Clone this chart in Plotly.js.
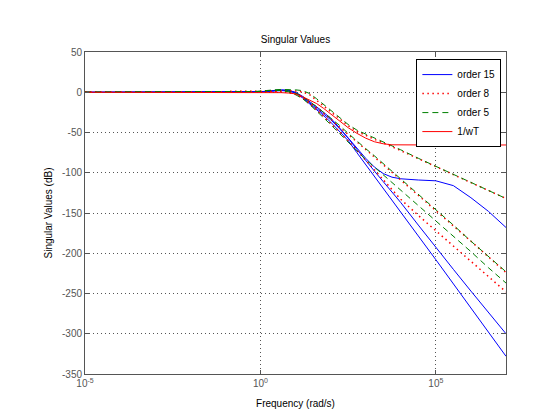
<!DOCTYPE html>
<html>
<head>
<meta charset="utf-8">
<script src="https://cdn.plot.ly/plotly-3.0.1.min.js"></script>
<style>
  html, body { margin: 0; padding: 0; background: #fff; }
  #chart { width: 560px; height: 420px; }
</style>
</head>
<body>
<div id="chart"></div>
<script>
const freq = [1e-5, 0.631, 1, 1.585, 2.512, 3.981, 6.31, 10, 15.85, 25.12, 39.81, 63.1, 100,
              177.8, 316.2, 562.3, 1000, 1778, 3162, 5623, 1e4, 3.162e4, 1e5, 3.162e5, 1e6, 3.162e6, 1e7];

// order 15 model: three singular values (dB)
const order15_sv1 = [0, 0.2, 0.5, 1.5, 2.5, 3, 2.5, 0, -5, -11, -18, -25, -32, -44, -57, -70, -82, -93, -101, -105.5, -107.5, -109, -110, -116, -131, -148, -168];
const order15_sv2 = [0, 0.2, 0.5, 1.2, 2, 2.5, 2, -0.5, -6, -12.5, -20, -27, -34, -45, -57, -71, -85, -98, -111, -124, -137, -165, -193, -220, -247, -273.5, -300];
const order15_sv3 = [0, 0.1, 0.4, 1, 1.5, 2, 1.5, -1, -7, -14, -21.5, -29, -37, -48, -60, -75, -90, -105, -120, -135, -149.5, -178.5, -208, -238, -268, -298, -328];

// order 8 model
const order8_sv1 = [0, 0.2, 0.5, 1, 1.5, 2, 2, 1.5, 0.5, -3, -10, -17, -24.5, -33, -41.5, -48.5, -54, -58.5, -63, -67.5, -72.5, -82.5, -92.5, -102.5, -112.5, -122.5, -132];
const order8_sv2 = [0, 0.2, 0.5, 1, 1.5, 1.5, 0.5, -2, -6, -12, -19, -26, -33, -43, -52, -61.5, -71, -80.5, -90, -99, -108, -127, -146, -165.5, -185, -204.5, -224];
const order8_sv3 = [0, 0.1, 0.4, 0.8, 1, 1, 0, -2.5, -7, -14, -22, -30, -38, -49, -60, -72, -84, -96, -108.5, -121, -133, -153, -172, -191, -210, -229, -248];

// order 5 model
const order5_sv1 = [0, 0.5, 1.5, 2.5, 3, 3.5, 3.5, 3, 2, -1.5, -8, -15, -22.5, -31, -40, -47, -52, -56.5, -61, -66, -71.5, -82, -92, -102, -112.5, -122.5, -132];
const order5_sv2 = [0, 0.3, 1, 2, 2.5, 2.5, 1.5, -1, -5, -11, -18, -25, -32, -41, -51, -61, -70, -79, -88.5, -98, -107.5, -126.5, -145.5, -165, -185, -204.5, -223];
const order5_sv3 = [0, 0.3, 1, 2, 2.5, 2, 0.5, -3, -8, -15, -23, -31, -40, -51, -62, -73, -83.5, -93, -102.5, -112, -121.5, -140.5, -159.5, -179, -198, -218, -237];

// weighting 1/wT
const invWT = [0, 0, 0, 0, -0.2, -0.5, -1, -2, -5.5, -9.5, -14, -20, -27, -36, -44, -51, -57, -61.5, -64, -65.3, -65.5, -65.5, -65.5, -65.5, -65.5, -65.5, -65.5];

// Axis ticks
const xTickVals = [1e-5, 1, 1e5];
const xTickText = ['10<sup>-5</sup>', '10<sup>0</sup>', '10<sup>5</sup>'];
const yTickVals = [50, 0, -50, -100, -150, -200, -250, -300, -350];
const yTickText = ['50', '0', '-50', '-100', '-150', '-200', '-250', '-300', '-350'];

const seriesNames = ['order 15', 'order 8', 'order 5', '1/wT'];

const FONT = 'Liberation Sans, Arial, Helvetica, sans-serif';

function mk(y, name, color, dash, width, show) {
  return {
    x: freq, y: y, type: 'scatter', mode: 'lines',
    name: name, legendgroup: name, showlegend: show,
    line: { color: color, width: width, dash: dash },
    hoverinfo: 'skip'
  };
}

const DOT = '1.5px,3.5px';
const DASH = '6px,4px';

const traces = [
  mk(order15_sv1, seriesNames[0], '#0000ff', 'solid', 1, true),
  mk(order15_sv2, seriesNames[0], '#0000ff', 'solid', 1, false),
  mk(order15_sv3, seriesNames[0], '#0000ff', 'solid', 1, false),
  mk(order8_sv1, seriesNames[1], '#ff0000', DOT, 1.5, true),
  mk(order8_sv2, seriesNames[1], '#ff0000', DOT, 1.5, false),
  mk(order8_sv3, seriesNames[1], '#ff0000', DOT, 1.5, false),
  mk(order5_sv1, seriesNames[2], '#008000', DASH, 1, true),
  mk(order5_sv2, seriesNames[2], '#008000', DASH, 1, false),
  mk(order5_sv3, seriesNames[2], '#008000', DASH, 1, false),
  mk(invWT, seriesNames[3], '#ff0000', 'solid', 1, true)
];

const axisCommon = {
  showline: true, mirror: 'ticks', linecolor: '#555', linewidth: 1,
  ticks: 'inside', ticklen: 4, tickcolor: '#555', tickwidth: 1,
  showgrid: true, gridcolor: '#555', gridwidth: 1, griddash: '1px,3px',
  zeroline: false,
  tickfont: { family: FONT, size: 10, color: '#555' }
};

const layout = {
  width: 560, height: 420,
  paper_bgcolor: '#fff', plot_bgcolor: '#fff',
  margin: { l: 85, r: 54, t: 52, b: 46 },
  font: { family: FONT, size: 10, color: '#000' },
  title: {
    text: 'Singular Values',
    font: { family: FONT, size: 10, color: '#000' },
    x: 0.5, xref: 'paper', xanchor: 'center',
    y: 1 - 39 / 420, yref: 'container', yanchor: 'middle'
  },
  xaxis: Object.assign({}, axisCommon, {
    type: 'log', range: [-5, 7],
    tickmode: 'array', tickvals: xTickVals, ticktext: xTickText,
    title: { text: 'Frequency (rad/s)', font: { family: FONT, size: 10, color: '#000' }, standoff: 11 }
  }),
  yaxis: Object.assign({}, axisCommon, {
    range: [-350, 50],
    tickmode: 'array', tickvals: yTickVals, ticktext: yTickText,
    title: { text: 'Singular Values (dB)', font: { family: FONT, size: 10, color: '#000' }, standoff: 7 }
  }),
  showlegend: true,
  legend: {
    x: 0.989, xanchor: 'right', y: 0.978, yanchor: 'top',
    bgcolor: '#fff', bordercolor: '#000', borderwidth: 1,
    font: { family: FONT, size: 10, color: '#000' },
    itemwidth: 30, tracegroupgap: 0
  }
};

Plotly.newPlot('chart', traces, layout, { displayModeBar: false, staticPlot: true });
</script>
</body>
</html>
